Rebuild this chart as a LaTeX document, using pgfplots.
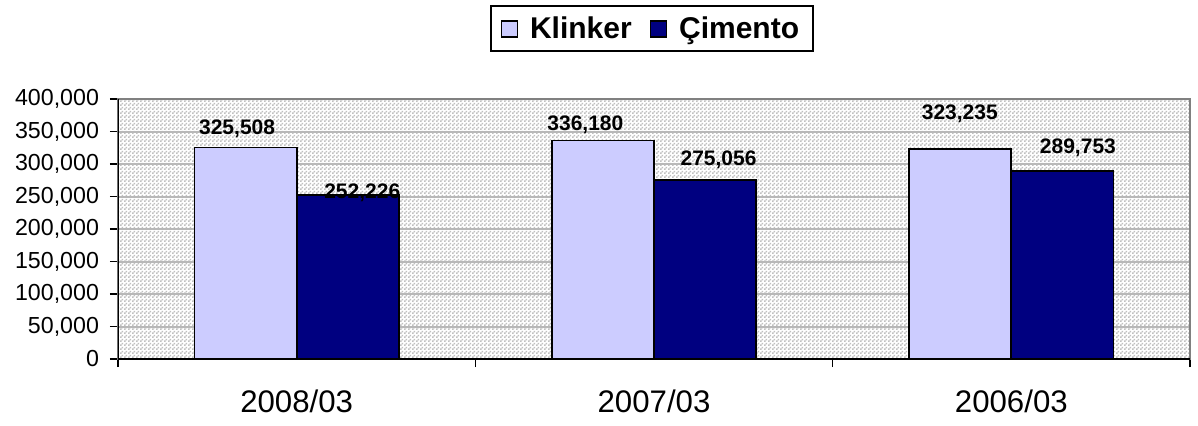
\documentclass[border=0pt]{standalone}
\usepackage{pgfplots}
\pgfplotsset{compat=1.18}
\usepackage{fontspec}
\setmainfont{Liberation Sans}
\usetikzlibrary{patterns.meta}
\definecolor{klinker}{HTML}{CCCCFF}
\definecolor{cimento}{HTML}{000080}
\definecolor{checkgray}{HTML}{C0C0C0}
\definecolor{gridgray}{HTML}{B8B8B8}
\definecolor{framegray}{HTML}{808080}
\pgfdeclarepattern{
  name=checks, type=uncolored,
  bottom left={\pgfpoint{0pt}{0pt}}, top right={\pgfpoint{2pt}{2pt}},
  tile size={\pgfpoint{2pt}{2pt}},
  code={\pgfpathrectangle{\pgfpointorigin}{\pgfpoint{1pt}{1pt}}%
        \pgfpathrectangle{\pgfpoint{1pt}{1pt}}{\pgfpoint{1pt}{1pt}}%
        \pgfusepath{fill}}
}
\begin{document}
\begin{tikzpicture}
\useasboundingbox (0,0) rectangle (599pt,212.5pt);
\begin{axis}[
  at={(59pt,33pt)}, anchor=south west,
  scale only axis, width=536pt, height=130pt,
  ybar=0pt, bar width=0.2857,
  xmin=-0.5, xmax=2.5, ymin=0, ymax=400000,
  axis background/.style={pattern={checks}, pattern color=checkgray},
  axis line style={framegray, line width=1pt},
  ymajorgrids, major grid style={gridgray, line width=1pt},
  ytick={0,50000,...,400000},
  ytick pos=left, xtick pos=bottom,
  tick align=outside, major tick length=4pt,
  tick style={black, line width=0.8pt},
  scaled y ticks=false,
  yticklabel style={/pgf/number format/fixed, /pgf/number format/1000 sep={,},
    /pgf/number format/assume math mode=true,
    font=\fontsize{11.6}{13}\selectfont, xshift=-2pt},
  xtick={-0.5,0.5,1.5,2.5}, xticklabels={},
  extra x ticks={0,1,2},
  extra x tick labels={2008/03,2007/03,2006/03},
  extra x tick style={major tick length=0pt,
    tick label style={font=\fontsize{15.6}{18}\selectfont, yshift=-12pt}},
  legend columns=2,
  legend style={at={(axis description cs:0.498,1.27)}, anchor=center,
    draw=black, line width=1pt, inner xsep=5pt, inner ysep=3pt,
    font=\fontsize{15}{18}\selectfont\bfseries,
    /tikz/every odd column/.append style={column sep=4pt},
    /tikz/every even column/.append style={column sep=7pt}},
  legend image code/.code={\draw[#1, line width=0.7pt] (0pt,-4pt) rectangle (8pt,4pt);},
]
\addplot[fill=klinker, draw=black, line width=0.9pt, bar shift=-0.14285]
  coordinates {(0,325508) (1,336180) (2,323235)};
\addplot[fill=cimento, draw=black, line width=0.9pt, bar shift=0.14285]
  coordinates {(0,252226) (1,275056) (2,289753)};
\legend{Klinker, Çimento}
\draw[black, line width=1pt] (axis cs:-0.5,400000) -- (axis cs:-0.5,0) -- (axis cs:2.5,0);
\begin{scope}[font=\fontsize{10.5}{12}\selectfont\bfseries]
\node[anchor=base] at (axis cs:-0.1667,345385) {325,508};
\node[anchor=base] at (axis cs:0.1835,246923) {252,226};
\node[anchor=base] at (axis cs:0.808,351538) {336,180};
\node[anchor=base] at (axis cs:1.1807,297692) {275,056};
\node[anchor=base] at (axis cs:1.8557,368462) {323,235};
\node[anchor=base] at (axis cs:2.1863,316154) {289,753};
\end{scope}
\end{axis}
\end{tikzpicture}
\end{document}
